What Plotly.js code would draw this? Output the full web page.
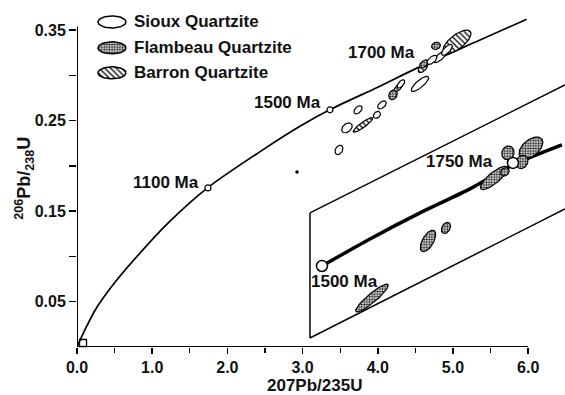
<!DOCTYPE html>
<html>
<head>
<meta charset="utf-8">
<script src="https://cdn.plot.ly/plotly-3.0.1.min.js"></script>
<style>html,body{margin:0;padding:0;background:#fff}#chart{width:565px;height:395px}</style>
</head>
<body>
<div id="chart"></div>
<script>
// Concordia curve
const concX = [0, 0.1, 0.25, 0.5, 0.84, 1.2, 1.74, 2.43, 2.97, 3.36, 4.0, 4.52, 5.36, 5.98];
const concY = [0, 0.018, 0.042, 0.071, 0.104, 0.136, 0.176, 0.2155, 0.244, 0.262, 0.287, 0.308, 0.339, 0.362];

// Inset (enlarged) concordia segment
const insetX = [3.258, 3.896, 4.561, 5.226, 5.798, 6.449];
const insetY = [0.0895, 0.1193, 0.1481, 0.1746, 0.2011, 0.2232];

// Inset box outline
const boxTopX = [3.098, 6.489];
const boxTopY = [0.1481, 0.2895];
const boxBotX = [3.098, 6.489];
const boxBotY = [0.0099, 0.1525];
const boxLeftX = [3.098, 3.098];
const boxLeftY = [0.0099, 0.1481];

// Age markers
const ageX = [1.742, 3.364];
const ageY = [0.1757, 0.262];
const insetAgeX = [3.258, 5.798];
const insetAgeY = [0.0895, 0.2033];
const originX = [0.08];
const originY = [0.0044];
const dotX = [2.926];
const dotY = [0.1934];

// Age labels
const labelText = ["1100 Ma", "1500 Ma", "1700 Ma", "1750 Ma", "1500 Ma"];
const labelX = [1.184, 2.806, 4.043, 5.093, 3.551];
const labelY = [0.1812, 0.2696, 0.3249, 0.2044, 0.0718];

// Error ellipses: centre (x,y), major half-vector (dx,dy) in data units, minor/major ratio r
const siouxX  = [3.484, 3.737, 3.590, 4.056, 3.989, 4.561, 4.309, 4.827, 4.721, 4.920];
const siouxY  = [0.2177, 0.2619, 0.2420, 0.2674, 0.2564, 0.2906, 0.2906, 0.3204, 0.3171, 0.3282];
const siouxDX = [0.0332, 0.047, 0.0611, 0.051, 0.0407, 0.112, 0.0427, 0.0815, 0.0611, 0.066];
const siouxDY = [0.00478, 0.0039, 0.00426, 0.00355, 0.00284, 0.00781, 0.00423, 0.00568, 0.00426, 0.0055];
const siouxR  = [0.7, 0.6, 0.67, 0.6, 0.75, 0.32, 0.5, 0.38, 0.5, 0.43];

const flamX  = [4.202, 4.774, 4.614, 4.668, 4.907, 3.923, 5.545, 6.037, 5.731, 5.918, 5.691];
const flamY  = [0.2785, 0.3326, 0.3127, 0.1171, 0.1315, 0.0541, 0.1867, 0.2199, 0.2144, 0.2044, 0.1934];
const flamDX = [0.0332, 0.0562, 0.051, 0.0798, 0.0399, 0.2139, 0.1732, 0.1426, 0.0318, 0.0465, 0.045];
const flamDY = [0.00478, 0.0017, 0.00355, 0.01148, 0.00574, 0.01492, 0.01208, 0.00995, 0.00727, 0.0067, 0.0035];
const flamR  = [0.8, 0.78, 0.6, 0.46, 0.67, 0.21, 0.32, 0.57, 0.86, 0.8, 0.8];

const barX  = [3.803, 5.053, 4.601, 4.269];
const barY  = [0.2453, 0.337, 0.3083, 0.2862];
const barDX = [0.129, 0.178, 0.0564, 0.047];
const barDY = [0.0078, 0.01157, 0.00469, 0.0039];
const barR  = [0.21, 0.41, 0.5, 0.5];

// Legend
const legendNames = ["Sioux Quartzite", "Flambeau Quartzite", "Barron Quartzite"];
const legendSymX = [0.465, 0.465, 0.465];
const legendSymY = [0.359, 0.3304, 0.3028];
const legendTextX = [0.731, 0.731, 0.731];

const xTickVals = [0, 1, 2, 3, 4, 5, 6];
const xTickText = ["0.0", "1.0", "2.0", "3.0", "4.0", "5.0", "6.0"];
const xMinorVals = [0.5, 1.5, 2.5, 3.5, 4.5, 5.5];
const yTickVals = [0.05, 0.15, 0.25, 0.35];
const yTickText = ["0.05", "0.15", "0.25", "0.35"];
const yMinorVals = [0.10, 0.20, 0.30];

// ---- layout geometry ----
const W = 565, H = 395;
const M = {l: 77, r: 0, t: 12, b: 48};
const xRange = [0, 6.49], yRange = [0, 0.37];
const sx = (W - M.l - M.r) / (xRange[1] - xRange[0]);
const sy = (H - M.t - M.b) / (yRange[1] - yRange[0]);

function ellipse(cx, cy, dx, dy, r) {
  const px = dx * sx, py = dy * sy;
  const bx = -py * r / sx, by = px * r / sy;
  const xs = [], ys = [];
  for (let i = 0; i <= 60; i++) {
    const t = i / 60 * 2 * Math.PI;
    xs.push(cx + dx * Math.cos(t) + bx * Math.sin(t));
    ys.push(cy + dy * Math.cos(t) + by * Math.sin(t));
  }
  return {x: xs, y: ys};
}

const styles = {
  sioux: {fillcolor: '#ffffff'},
  flam: {fillcolor: '#ffffff', fillpattern: {shape: '.', fgcolor: '#222', bgcolor: '#fff', size: 2.6, solidity: 0.5}},
  bar: {fillcolor: '#ffffff', fillpattern: {shape: '\\', fgcolor: '#111', bgcolor: '#fff', size: 4, solidity: 0.35}}
};

function ellipseTrace(e, st, lw) {
  const t = {type: 'scatter', mode: 'lines', x: e.x, y: e.y, fill: 'toself',
    line: {color: '#000', width: lw || 1.2}, hoverinfo: 'skip', showlegend: false};
  return Object.assign(t, st);
}

const traces = [];
const lineT = (x, y, w, shape) => ({type: 'scatter', mode: 'lines', x, y,
  line: {color: '#000', width: w, shape: shape || 'linear', smoothing: 0.8},
  hoverinfo: 'skip', showlegend: false});

traces.push(lineT(concX, concY, 1.7, 'spline'));
traces.push(lineT(boxTopX, boxTopY, 1.5));
traces.push(lineT(boxBotX, boxBotY, 1.5));
traces.push(lineT(boxLeftX, boxLeftY, 1.5));
traces.push(lineT(insetX, insetY, 3.5, 'spline'));

for (let i = 0; i < barX.length; i++) traces.push(ellipseTrace(ellipse(barX[i], barY[i], barDX[i], barDY[i], barR[i]), styles.bar));
for (let i = 0; i < flamX.length; i++) traces.push(ellipseTrace(ellipse(flamX[i], flamY[i], flamDX[i], flamDY[i], flamR[i]), styles.flam));
for (let i = 0; i < siouxX.length; i++) traces.push(ellipseTrace(ellipse(siouxX[i], siouxY[i], siouxDX[i], siouxDY[i], siouxR[i]), styles.sioux));

// legend symbols
const legStyles = [styles.sioux, styles.flam, styles.bar];
for (let i = 0; i < 3; i++) {
  traces.push(ellipseTrace(ellipse(legendSymX[i], legendSymY[i], 0.186, 0, 0.43), legStyles[i], 1.5));
}

traces.push({type: 'scatter', mode: 'markers', x: ageX, y: ageY,
  marker: {symbol: 'circle', size: 6, color: '#fff', line: {color: '#000', width: 1.2}}, hoverinfo: 'skip', showlegend: false});
traces.push({type: 'scatter', mode: 'markers', x: insetAgeX, y: insetAgeY,
  marker: {symbol: 'circle', size: 11, color: '#fff', line: {color: '#000', width: 1.5}}, hoverinfo: 'skip', showlegend: false});
traces.push({type: 'scatter', mode: 'markers', x: originX, y: originY, cliponaxis: false,
  marker: {symbol: 'square', size: 7, color: 'rgba(0,0,0,0)', line: {color: '#000', width: 1.3}}, hoverinfo: 'skip', showlegend: false});
traces.push({type: 'scatter', mode: 'markers', x: dotX, y: dotY,
  marker: {symbol: 'circle', size: 3.5, color: '#000'}, hoverinfo: 'skip', showlegend: false});

const fontFam = 'Arial, "Liberation Sans", Helvetica, sans-serif';
const annotations = [];
for (let i = 0; i < labelText.length; i++) {
  annotations.push({x: labelX[i], y: labelY[i], xref: 'x', yref: 'y', text: labelText[i], showarrow: false,
    xanchor: 'center', yanchor: 'middle', font: {family: fontFam, size: 17, color: '#111', weight: 'bold'}});
}
for (let i = 0; i < 3; i++) {
  annotations.push({x: legendTextX[i], y: legendSymY[i], xref: 'x', yref: 'y', text: legendNames[i], showarrow: false,
    xanchor: 'left', yanchor: 'middle', font: {family: fontFam, size: 17, color: '#111', weight: 'bold'}});
}
annotations.push({x: 3.165, y: -0.116, xref: 'x', yref: 'paper', text: '207Pb/235U', showarrow: false,
  xanchor: 'center', yanchor: 'middle', font: {family: fontFam, size: 17, color: '#111', weight: 'bold'}});
annotations.push({x: -0.107, y: 0.1867, xref: 'paper', yref: 'y', text: '<sup>206</sup>Pb/<sub>238</sub>U', showarrow: false,
  textangle: -90, xanchor: 'center', yanchor: 'middle', font: {family: fontFam, size: 18, color: '#111', weight: 'bold'}});

const layout = {
  width: W, height: H, margin: M,
  paper_bgcolor: '#fff', plot_bgcolor: '#fff',
  font: {family: fontFam, size: 16, color: '#111', weight: 'bold'},
  showlegend: false,
  xaxis: {range: xRange, showgrid: false, zeroline: false, showline: false,
    tickmode: 'array', tickvals: xTickVals, ticktext: xTickText, ticks: 'outside', ticklen: 6, tickwidth: 1.5, tickcolor: '#000',
    minor: {tickmode: 'array', tickvals: xMinorVals, ticks: 'outside', ticklen: 5, tickwidth: 1.3, tickcolor: '#000', showgrid: false},
    tickfont: {family: fontFam, size: 16, color: '#111', weight: 'bold'}, fixedrange: true},
  yaxis: {range: yRange, showgrid: false, zeroline: false, showline: false,
    tickmode: 'array', tickvals: yTickVals, ticktext: yTickText, ticks: 'outside', ticklen: 7, tickwidth: 1.5, tickcolor: '#000',
    minor: {tickmode: 'array', tickvals: yMinorVals, ticks: 'outside', ticklen: 7, tickwidth: 1.5, tickcolor: '#000', showgrid: false},
    tickfont: {family: fontFam, size: 16, color: '#111', weight: 'bold'}, fixedrange: true},
  shapes: [
    {type: 'line', xref: 'x', yref: 'y', x0: 0, x1: 6, y0: 0, y1: 0, line: {color: '#000', width: 2}},
    {type: 'line', xref: 'x', yref: 'y', x0: 0, x1: 0, y0: 0, y1: 0.354, line: {color: '#000', width: 2}}
  ],
  annotations: annotations
};

Plotly.newPlot('chart', traces, layout, {staticPlot: true, displayModeBar: false});
</script>
</body>
</html>
